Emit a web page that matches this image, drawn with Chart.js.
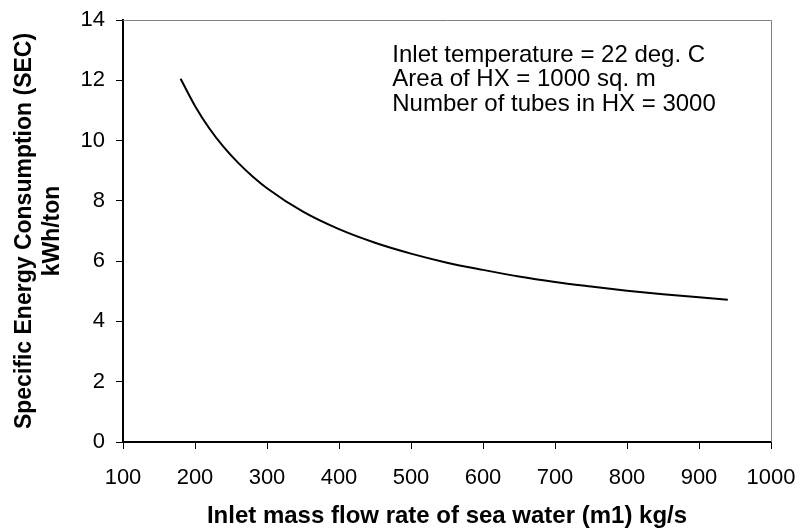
<!DOCTYPE html>
<html>
<head>
<meta charset="utf-8">
<script src="https://cdn.jsdelivr.net/npm/chart.js@4.4.1/dist/chart.umd.min.js"></script>
<style>
html,body{margin:0;padding:0;background:#fff;}
#wrap{width:801px;height:532px;position:relative;}
</style>
</head>
<body>
<div id="wrap"><canvas id="c" width="801" height="532"></canvas></div>
<script>
const flowRates = [180, 200, 220, 240, 260, 280, 300, 350, 400, 450, 500, 550, 600, 650, 700, 750, 800, 850, 900, 940];
const secValues = [12.05, 11.15, 10.4, 9.78, 9.26, 8.81, 8.42, 7.64, 7.06, 6.61, 6.25, 5.95, 5.71, 5.49, 5.31, 5.16, 5.02, 4.9, 4.8, 4.72];
const xTickRange = {min: 100, max: 1000, step: 100};
const yTickRange = {min: 0, max: 14, step: 2};
const noteLines = ['Inlet temperature = 22 deg. C', 'Area of HX = 1000 sq. m', 'Number of tubes in HX = 3000'];
const xTitle = 'Inlet mass flow rate of sea water (m1) kg/s';
const yTitle = ['Specific Energy Consumption (SEC)', 'kWh/ton'];

const FONT = "'Liberation Sans', Arial, sans-serif";

const frameAndNote = {
  id: 'frameAndNote',
  afterDraw(chart) {
    const {ctx, chartArea: a, scales} = chart;
    ctx.save();
    ctx.strokeStyle = '#808080';
    ctx.lineWidth = 1;
    ctx.beginPath();
    ctx.moveTo(a.left, a.top + 0.5);
    ctx.lineTo(a.right + 0.5, a.top + 0.5);
    ctx.lineTo(a.right + 0.5, a.bottom);
    ctx.stroke();
    ctx.fillStyle = '#000';
    ctx.font = '24px ' + FONT;
    ctx.textBaseline = 'alphabetic';
    ctx.textAlign = 'left';
    const x0 = scales.x.getPixelForValue(474);
    const y0 = scales.y.getPixelForValue(12.62);
    noteLines.forEach((t, i) => ctx.fillText(t, x0, y0 + i * 24.5));
    ctx.restore();
  }
};

new Chart(document.getElementById('c'), {
  type: 'line',
  data: {
    datasets: [{
      data: flowRates.map((x, i) => ({x: x, y: secValues[i]})),
      borderColor: '#000',
      borderWidth: 2,
      pointRadius: 0,
      fill: false,
      cubicInterpolationMode: 'monotone'
    }]
  },
  options: {
    responsive: false,
    animation: false,
    devicePixelRatio: 1,
    layout: {padding: {top: 20, right: 30, left: 0, bottom: 0}},
    plugins: {legend: {display: false}, tooltip: {enabled: false}},
    scales: {
      x: {
        type: 'linear',
        min: xTickRange.min, max: xTickRange.max,
        afterFit(s) { s.height = 90; s.paddingLeft = 0; s.paddingRight = 0; },
        ticks: {stepSize: xTickRange.step, color: '#000', font: {family: FONT, size: 22}, padding: 16, maxRotation: 0,
                callback: v => String(v)},
        grid: {drawOnChartArea: false, drawTicks: true, tickLength: 7, color: '#000'},
        border: {color: '#000', width: 2},
        title: {display: true, text: xTitle, color: '#000', font: {family: FONT, size: 24, weight: 'bold'}, padding: {top: 4, bottom: 1}}
      },
      y: {
        min: yTickRange.min, max: yTickRange.max,
        afterFit(s) { s.width = 123; s.paddingTop = 0; s.paddingBottom = 0; },
        ticks: {stepSize: yTickRange.step, color: '#000', font: {family: FONT, size: 22}, padding: 11},
        grid: {drawOnChartArea: false, drawTicks: true, tickLength: 7, color: '#000'},
        border: {color: '#000', width: 2},
        title: {display: true, text: yTitle, color: '#000', font: {family: FONT, size: 23, weight: 'bold'}, padding: {top: 11, bottom: 0}}
      }
    }
  },
  plugins: [frameAndNote]
});
</script>
</body>
</html>
